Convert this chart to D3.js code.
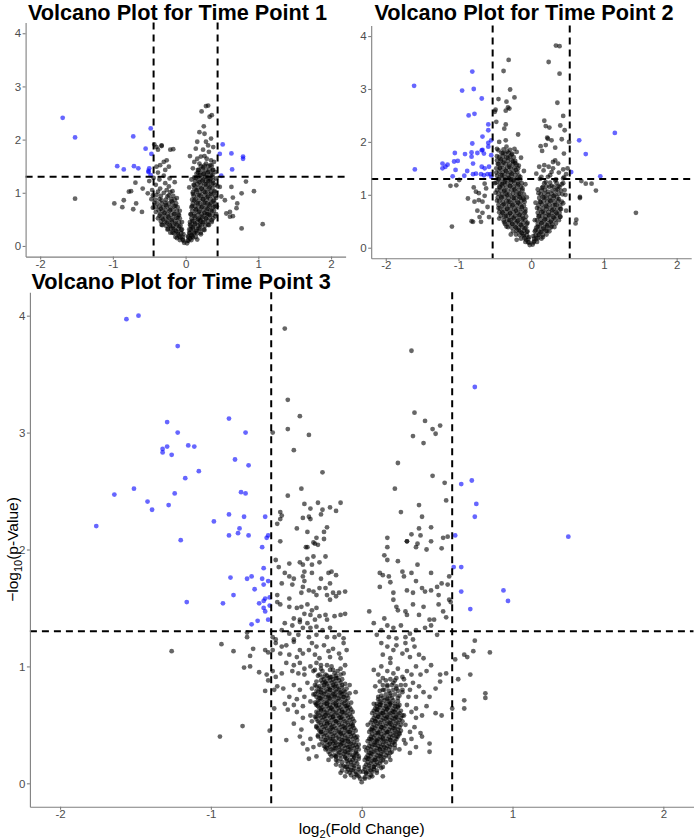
<!DOCTYPE html>
<html lang="en">
<head>
<meta charset="utf-8">
<script src="https://d3js.org/d3.v7.min.js"></script>
<title>Volcano plots</title>
<style>
  body { margin: 0; background: #fff; }
  svg { display: block; font-family: "Liberation Sans", Arial, sans-serif; }
  .tick-label { font-size: 11.5px; fill: #4d4d4d; }
  .plot-title { font-size: 21.7px; font-weight: bold; fill: #000; }
  .axis-title { font-size: 15.5px; fill: #000; }
</style>
</head>
<body>
<svg id="chart" width="697" height="838"></svg>
<script>
// each point: [log2 fold change, -log10 p-value]
const tp1Points = [
  // significant / far points
  [-1.69,2.41],[-1.52,2.04],[-0.72,2.06],[-0.48,2.21],[-0.55,1.83],[-0.47,1.73],[-0.94,1.50],[-0.85,1.44],
  [-0.71,1.50],[-0.65,1.46],[-0.51,1.41],[-0.50,1.46],[-0.51,1.39],[-0.48,1.33],
  [0.51,1.91],[0.47,1.73],[0.63,1.74],[0.79,1.68],[0.79,1.64],[0.64,1.44],[0.49,1.32],
  [-1.52,0.89],[-0.98,0.80],[-0.87,0.73],[-0.85,0.86],[-0.72,0.69],[-0.68,0.80],[-0.60,0.64],[-0.78,1.02],
  [-0.69,1.19],[-0.59,1.08],[-0.52,0.99],[-0.75,1.03],
  [0.77,0.33],[1.06,0.41],[0.94,1.03],[0.83,1.21],[0.77,0.99],[0.65,0.91],[0.71,0.80],[0.61,0.64],[0.56,0.61],
  [0.65,0.56],[0.47,1.11],[0.49,0.93],[0.54,0.86],[0.63,1.11],[0.70,0.71],[0.61,0.55],
  // upper right cluster
  [0.28,2.63],[0.31,2.64],[0.22,2.53],[0.33,2.43],[0.36,2.46],[0.25,2.25],[0.19,2.14],[0.26,2.11],[0.16,1.96],
  [0.28,1.96],[0.31,1.89],[0.35,2.02],[0.14,1.83],[0.24,1.81],[0.32,1.77],[0.38,1.86],[0.06,1.69],[0.16,1.64],
  [0.21,1.68],[0.26,1.69],[0.29,1.64],[0.35,1.61],[0.12,1.58],[0.19,1.55],[0.28,1.55],[0.34,1.52],[0.39,1.58],
  [0.10,1.46],[0.17,1.43],[0.24,1.48],[0.31,1.39],[0.37,1.43],[0.41,1.39],
  // upper left cluster
  [-0.33,1.88],[-0.38,1.81],[-0.21,1.81],[-0.17,1.82],[-0.43,1.91],[-0.26,1.61],[-0.30,1.58],[-0.35,1.52],
  [-0.40,1.49],[-0.23,1.49],[-0.38,1.38],[-0.28,1.43],[-0.40,1.86],[-0.33,1.89],
  // right arm
  [0.02,0.05],[0.04,0.10],[0.06,0.14],[0.03,0.18],[0.08,0.20],[0.10,0.16],[0.05,0.25],[0.12,0.24],[0.15,0.28],
  [0.07,0.31],[0.10,0.35],[0.18,0.33],[0.20,0.40],[0.13,0.42],[0.06,0.40],[0.24,0.45],[0.09,0.47],[0.17,0.50],
  [0.28,0.52],[0.22,0.55],[0.12,0.56],[0.33,0.58],[0.07,0.60],[0.26,0.62],[0.18,0.64],[0.36,0.66],[0.30,0.70],
  [0.14,0.69],[0.22,0.73],[0.40,0.74],[0.09,0.75],[0.33,0.78],[0.27,0.81],[0.17,0.80],[0.38,0.84],[0.12,0.86],
  [0.24,0.88],[0.42,0.90],[0.30,0.92],[0.19,0.95],[0.35,0.98],[0.10,0.98],[0.27,1.01],[0.40,1.03],[0.15,1.05],
  [0.22,1.08],[0.33,1.10],[0.44,1.12],[0.12,1.14],[0.28,1.16],[0.38,1.18],[0.19,1.20],[0.24,1.24],[0.34,1.25],
  [0.42,1.27],[0.14,1.28],[0.29,1.30],[0.20,1.33],[0.37,1.34],[0.25,1.36],[0.31,1.22],[0.17,1.38],[0.08,1.25],
  [0.05,1.10],[0.16,0.12],[0.21,0.22],[0.26,0.30],[0.31,0.40],[0.36,0.48],[0.41,0.56],[0.20,0.48],[0.30,0.60],
  // left arm
  [-0.02,0.06],[-0.04,0.12],[-0.07,0.16],[-0.03,0.22],[-0.10,0.22],[-0.13,0.28],[-0.06,0.30],[-0.17,0.33],
  [-0.09,0.37],[-0.21,0.38],[-0.14,0.42],[-0.26,0.44],[-0.05,0.45],[-0.19,0.48],[-0.31,0.50],[-0.11,0.53],
  [-0.24,0.55],[-0.36,0.57],[-0.16,0.60],[-0.29,0.62],[-0.41,0.64],[-0.08,0.66],[-0.21,0.68],[-0.34,0.70],
  [-0.45,0.72],[-0.14,0.75],[-0.27,0.77],[-0.39,0.80],[-0.19,0.84],[-0.33,0.86],[-0.47,0.88],[-0.12,0.90],
  [-0.25,0.93],[-0.40,0.96],[-0.30,1.00],[-0.18,1.03],[-0.46,1.05],[-0.35,1.08],[-0.23,1.12],[-0.41,1.15],
  [-0.28,1.18],[-0.15,1.20],[-0.50,1.22],[-0.36,1.25],[-0.22,1.27],[-0.44,1.28],[-0.30,1.32],[-0.12,0.15],
  [-0.18,0.25],[-0.24,0.32],[-0.09,0.58],[-0.33,0.40]
];

// densely packed genes in the core of the volcano, time point 1
const tp1Core = [
  [0.03,0.10],[0.08,0.11],[0.04,0.17],[0.09,0.18],[0.14,0.17],[0.06,0.24],[0.11,0.25],[0.16,0.24],[0.21,0.25],
  [0.05,0.31],[0.10,0.32],[0.15,0.31],[0.20,0.32],[0.25,0.31],[0.07,0.38],[0.12,0.39],[0.17,0.38],[0.22,0.39],
  [0.27,0.38],[0.32,0.39],[0.06,0.45],[0.11,0.46],[0.16,0.45],[0.21,0.46],[0.26,0.45],[0.31,0.46],[0.36,0.45],
  [0.08,0.52],[0.13,0.53],[0.18,0.52],[0.23,0.53],[0.28,0.52],[0.33,0.53],[0.38,0.52],[0.07,0.59],[0.12,0.60],
  [0.17,0.59],[0.22,0.60],[0.27,0.59],[0.32,0.60],[0.37,0.59],[0.42,0.60],[0.09,0.66],[0.14,0.67],[0.19,0.66],
  [0.24,0.67],[0.29,0.66],[0.34,0.67],[0.39,0.66],[0.08,0.73],[0.13,0.74],[0.18,0.73],[0.23,0.74],[0.28,0.73],
  [0.33,0.74],[0.38,0.73],[0.43,0.74],[0.10,0.80],[0.15,0.81],[0.20,0.80],[0.25,0.81],[0.30,0.80],[0.35,0.81],
  [0.40,0.80],[0.09,0.87],[0.14,0.88],[0.19,0.87],[0.24,0.88],[0.29,0.87],[0.34,0.88],[0.39,0.87],[0.11,0.94],
  [0.16,0.95],[0.21,0.94],[0.26,0.95],[0.31,0.94],[0.36,0.95],[0.41,0.94],[0.10,1.01],[0.15,1.02],[0.20,1.01],
  [0.25,1.02],[0.30,1.01],[0.35,1.02],[0.40,1.01],[0.12,1.08],[0.17,1.09],[0.22,1.08],[0.27,1.09],[0.32,1.08],
  [0.37,1.09],[0.11,1.15],[0.16,1.16],[0.21,1.15],[0.26,1.16],[0.31,1.15],[0.36,1.16],[0.41,1.15],[0.13,1.22],
  [0.18,1.23],[0.23,1.22],[0.28,1.23],[0.33,1.22],[0.38,1.23],[0.12,1.29],[0.17,1.30],[0.22,1.29],[0.27,1.30],
  [0.32,1.29],[0.37,1.30],[0.15,1.36],[0.20,1.37],[0.25,1.36],[0.30,1.37],[0.35,1.36],
  [0.18,1.43],[0.23,1.44],[0.28,1.43],[0.33,1.44],[0.38,1.43],[0.21,1.50],[0.26,1.51],[0.31,1.50],[0.36,1.51],
  [-0.03,0.10],[-0.08,0.11],[-0.04,0.17],[-0.09,0.18],[-0.14,0.17],[-0.06,0.24],[-0.11,0.25],[-0.16,0.24],
  [-0.21,0.25],[-0.05,0.31],[-0.10,0.32],[-0.15,0.31],[-0.20,0.32],[-0.25,0.31],[-0.07,0.38],[-0.12,0.39],
  [-0.17,0.38],[-0.22,0.39],[-0.27,0.38],[-0.32,0.39],[-0.09,0.45],[-0.14,0.46],[-0.19,0.45],[-0.24,0.46],
  [-0.29,0.45],[-0.34,0.46],[-0.08,0.52],[-0.13,0.53],[-0.18,0.52],[-0.23,0.53],[-0.28,0.52],[-0.33,0.53],
  [-0.38,0.52],[-0.10,0.59],[-0.15,0.60],[-0.20,0.59],[-0.25,0.60],[-0.30,0.59],[-0.35,0.60],[-0.12,0.66],
  [-0.17,0.67],[-0.22,0.66],[-0.27,0.67],[-0.32,0.66],[-0.37,0.67],[-0.11,0.73],[-0.16,0.74],[-0.21,0.73],
  [-0.26,0.74],[-0.31,0.73],[-0.36,0.74],[-0.41,0.73],[-0.13,0.80],[-0.18,0.81],[-0.23,0.80],[-0.28,0.81],
  [-0.33,0.80],[-0.43,0.81],[-0.15,0.87],[-0.20,0.88],[-0.27,0.87],[-0.36,0.88],[-0.42,0.87],[-0.17,0.94],
  [-0.23,0.95],[-0.34,0.94],[-0.45,0.95],[-0.21,1.01],[-0.38,1.02],[-0.26,1.05]
];

const tp2Points = [
  // significant left
  [-1.61,3.06],[-1.60,1.48],[-0.81,3.33],[-0.95,2.97],[-0.79,3.00],[-0.68,2.82],[-0.86,2.50],[-0.78,2.53],
  [-0.59,2.33],[-0.59,2.22],[-0.67,2.10],[-0.81,1.97],[-0.59,1.98],[-0.59,1.91],[-0.55,2.03],[-0.67,1.85],
  [-0.91,1.77],[-0.82,1.80],[-0.82,1.72],[-0.74,1.79],[-0.68,1.84],[-0.65,1.78],[-1.05,1.79],[-1.06,1.63],
  [-1.01,1.64],[-1.15,1.57],[-1.22,1.59],[-1.18,1.53],[-1.22,1.50],[-0.88,1.45],[-0.80,1.59],[-0.68,1.53],
  [-0.64,1.50],[-0.58,1.53],[-0.55,1.75],[-1.08,1.35],[-0.92,1.36],[-0.80,1.39],[-0.76,1.40],[-0.69,1.39],
  [-0.65,1.37],[-0.60,1.39],[-0.55,1.34],[-0.56,1.39],[-1.04,1.47],
  // significant right
  [0.66,2.03],[0.75,1.77],[1.15,2.17],[0.95,1.35],[0.55,1.43],
  // upper cluster
  [0.34,3.82],[0.39,3.81],[-0.31,3.55],[0.24,3.51],[-0.38,3.34],[0.39,3.29],[-0.29,2.99],[-0.45,2.81],[-0.23,2.84],
  [-0.34,2.76],[-0.32,2.65],[-0.30,2.63],[-0.35,2.59],[-0.49,2.61],[0.36,2.74],[0.44,2.49],[0.18,2.40],[-0.48,2.38],
  [-0.50,2.57],[-0.35,2.33],[-0.37,2.25],[-0.18,2.14],[0.20,2.30],[0.25,2.27],[0.40,2.31],[0.46,2.22],[0.22,2.08],
  [0.23,2.06],[0.20,1.94],[0.28,2.03],[0.33,1.89],[0.42,2.05],[0.45,1.78],[0.52,2.00],[0.13,1.92],[0.15,1.83],
  [-0.44,2.00],[-0.35,2.03],[-0.47,1.87],[-0.34,1.91],[-0.23,1.87],[-0.20,1.81],
  [0.11,1.53],[0.18,1.56],[0.24,1.53],[0.30,1.62],[0.33,1.65],[0.37,1.59],[0.44,1.48],[0.50,1.50],[0.48,1.39],
  [0.28,1.43],[0.14,1.34],[0.23,1.34],[0.34,1.29],[0.44,1.31],[0.39,1.15],[0.46,1.09],[0.25,1.15],[0.07,1.40],
  // outside, not significant
  [0.69,1.26],[0.75,1.21],[0.83,1.21],[0.89,1.08],[0.67,0.96],[0.62,0.53],[0.61,0.46],[1.44,0.66],[0.67,0.94],
  [-1.11,1.17],[-1.09,0.40],[-0.87,0.93],[-0.80,0.49],[-0.82,0.50],[-0.71,0.58],[-0.67,0.66],[-0.74,0.70],
  [-0.69,0.49],[-0.78,0.87],[-0.72,0.90],[-0.64,0.98],[-0.79,1.14],[-0.76,1.06],[-0.72,1.03],[-0.99,1.28],
  [-1.03,1.18],[-0.64,1.21],[-0.62,1.12],[-0.60,0.77],[-0.58,0.58],[-0.67,0.87],
  // left arm
  [-0.02,0.05],[-0.04,0.10],[-0.07,0.15],[-0.03,0.20],[-0.10,0.22],[-0.13,0.28],[-0.06,0.30],[-0.17,0.33],
  [-0.09,0.37],[-0.21,0.38],[-0.14,0.43],[-0.26,0.45],[-0.05,0.47],[-0.19,0.50],[-0.30,0.52],[-0.11,0.55],
  [-0.24,0.57],[-0.35,0.60],[-0.16,0.62],[-0.29,0.65],[-0.40,0.67],[-0.08,0.68],[-0.21,0.70],[-0.33,0.73],
  [-0.45,0.75],[-0.13,0.77],[-0.26,0.80],[-0.38,0.82],[-0.18,0.85],[-0.31,0.87],[-0.47,0.89],[-0.10,0.91],
  [-0.24,0.94],[-0.41,0.96],[-0.33,1.00],[-0.17,1.02],[-0.49,1.04],[-0.37,1.07],[-0.23,1.10],[-0.12,1.12],
  [-0.43,1.14],[-0.29,1.17],[-0.18,1.20],[-0.50,1.22],[-0.36,1.24],[-0.24,1.27],[-0.45,1.30],[-0.31,1.32],
  [-0.15,1.34],[-0.40,1.37],[-0.27,1.40],[-0.48,1.42],[-0.35,1.45],[-0.21,1.47],[-0.43,1.50],[-0.30,1.53],
  [-0.17,1.55],[-0.46,1.58],[-0.38,1.61],[-0.25,1.63],[-0.42,1.67],[-0.32,1.70],[-0.47,1.73],[-0.27,1.76],
  [-0.39,1.79],[-0.45,1.84],[-0.33,1.82],[-0.14,1.70],[-0.10,1.45],[-0.08,1.20],[-0.06,0.95],[-0.28,0.25],
  [-0.34,0.40],[-0.44,0.55],[-0.20,0.15],[-0.37,0.48],[-0.15,0.95],[-0.28,1.28],[-0.22,1.60],[-0.40,1.20],
  // right arm
  [0.02,0.06],[0.04,0.12],[0.07,0.17],[0.03,0.22],[0.10,0.24],[0.13,0.30],[0.06,0.33],[0.17,0.36],[0.09,0.40],
  [0.22,0.42],[0.14,0.47],[0.27,0.49],[0.05,0.52],[0.19,0.54],[0.31,0.57],[0.11,0.60],[0.24,0.62],[0.35,0.65],
  [0.16,0.68],[0.29,0.71],[0.40,0.73],[0.08,0.75],[0.21,0.78],[0.33,0.81],[0.44,0.84],[0.13,0.86],[0.26,0.89],
  [0.38,0.92],[0.18,0.95],[0.31,0.98],[0.47,1.00],[0.10,1.03],[0.23,1.06],[0.36,1.10],[0.15,1.13],[0.28,1.17],
  [0.42,1.20],[0.20,1.24],[0.33,1.27],[0.12,1.30],[0.45,1.33],[0.26,1.37],[0.38,1.42],[0.17,1.46],[0.30,1.50],
  [0.09,1.10],[0.06,0.85],[0.16,0.20],[0.22,0.32],[0.28,0.40],[0.40,0.58],[0.48,0.70]
];

const tp2Core = [
  [-0.03,0.10],[-0.08,0.11],[-0.04,0.17],[-0.09,0.18],[-0.14,0.17],[-0.06,0.24],[-0.11,0.25],[-0.16,0.24],
  [-0.21,0.25],[-0.05,0.31],[-0.10,0.32],[-0.15,0.31],[-0.20,0.32],[-0.25,0.31],[-0.07,0.38],[-0.12,0.39],
  [-0.17,0.38],[-0.22,0.39],[-0.27,0.38],[-0.32,0.39],[-0.06,0.45],[-0.11,0.46],[-0.16,0.45],[-0.21,0.46],
  [-0.26,0.45],[-0.31,0.46],[-0.36,0.45],[-0.08,0.52],[-0.13,0.53],[-0.18,0.52],[-0.23,0.53],[-0.28,0.52],
  [-0.33,0.53],[-0.38,0.52],[-0.07,0.59],[-0.12,0.60],[-0.17,0.59],[-0.22,0.60],[-0.27,0.59],[-0.32,0.60],
  [-0.37,0.59],[-0.42,0.60],[-0.09,0.66],[-0.14,0.67],[-0.19,0.66],[-0.24,0.67],[-0.29,0.66],[-0.34,0.67],
  [-0.39,0.66],[-0.44,0.67],[-0.08,0.73],[-0.13,0.74],[-0.18,0.73],[-0.23,0.74],[-0.28,0.73],[-0.33,0.74],
  [-0.38,0.73],[-0.43,0.74],[-0.10,0.80],[-0.15,0.81],[-0.20,0.80],[-0.25,0.81],[-0.30,0.80],[-0.35,0.81],
  [-0.40,0.80],[-0.45,0.81],[-0.09,0.87],[-0.14,0.88],[-0.19,0.87],[-0.24,0.88],[-0.29,0.87],[-0.34,0.88],
  [-0.39,0.87],[-0.44,0.88],[-0.11,0.94],[-0.16,0.95],[-0.21,0.94],[-0.26,0.95],[-0.31,0.94],[-0.36,0.95],
  [-0.41,0.94],[-0.46,0.95],[-0.10,1.01],[-0.15,1.02],[-0.20,1.01],[-0.25,1.02],[-0.30,1.01],[-0.35,1.02],
  [-0.40,1.01],[-0.45,1.02],[-0.12,1.08],[-0.17,1.09],[-0.22,1.08],[-0.27,1.09],[-0.32,1.08],[-0.37,1.09],
  [-0.42,1.08],[-0.47,1.09],[-0.14,1.15],[-0.19,1.16],[-0.24,1.15],[-0.29,1.16],[-0.34,1.15],[-0.39,1.16],
  [-0.44,1.15],[-0.13,1.22],[-0.18,1.23],[-0.23,1.22],[-0.28,1.23],[-0.33,1.22],[-0.38,1.23],[-0.43,1.22],
  [-0.48,1.23],[-0.15,1.29],[-0.20,1.30],[-0.25,1.29],[-0.30,1.30],[-0.35,1.29],[-0.40,1.30],[-0.45,1.29],
  [-0.17,1.36],[-0.22,1.37],[-0.27,1.36],[-0.32,1.37],[-0.37,1.36],[-0.42,1.37],[-0.47,1.36],[-0.19,1.43],
  [-0.24,1.44],[-0.29,1.43],[-0.34,1.44],[-0.39,1.43],[-0.44,1.44],[-0.18,1.50],[-0.23,1.51],[-0.28,1.50],
  [-0.33,1.51],[-0.38,1.50],[-0.43,1.51],[-0.48,1.50],[-0.20,1.57],[-0.25,1.58],[-0.30,1.57],[-0.35,1.58],
  [-0.40,1.57],[-0.45,1.58],[-0.22,1.64],[-0.27,1.65],[-0.32,1.64],[-0.37,1.65],[-0.42,1.64],[-0.47,1.65],
  [-0.24,1.71],[-0.29,1.72],[-0.34,1.71],[-0.39,1.72],[-0.44,1.71],[-0.26,1.78],[-0.31,1.79],[-0.36,1.78],
  [-0.41,1.79],[-0.29,1.85],[-0.38,1.86],
  [0.03,0.10],[0.08,0.11],[0.04,0.17],[0.09,0.18],[0.14,0.17],[0.06,0.24],[0.11,0.25],[0.16,0.24],[0.21,0.25],
  [0.05,0.31],[0.10,0.32],[0.15,0.31],[0.20,0.32],[0.25,0.31],[0.07,0.38],[0.12,0.39],[0.17,0.38],[0.22,0.39],
  [0.27,0.38],[0.32,0.39],[0.09,0.45],[0.14,0.46],[0.19,0.45],[0.24,0.46],[0.29,0.45],[0.34,0.46],[0.08,0.52],
  [0.13,0.53],[0.18,0.52],[0.23,0.53],[0.28,0.52],[0.33,0.53],[0.38,0.52],[0.10,0.59],[0.15,0.60],[0.20,0.59],
  [0.25,0.60],[0.30,0.59],[0.35,0.60],[0.40,0.59],[0.09,0.66],[0.14,0.67],[0.19,0.66],[0.24,0.67],[0.29,0.66],
  [0.34,0.67],[0.39,0.66],[0.11,0.73],[0.16,0.74],[0.21,0.73],[0.26,0.74],[0.31,0.73],[0.36,0.74],[0.41,0.73],
  [0.10,0.80],[0.15,0.81],[0.20,0.80],[0.25,0.81],[0.30,0.80],[0.35,0.81],[0.40,0.80],[0.12,0.87],[0.17,0.88],
  [0.22,0.87],[0.27,0.88],[0.32,0.87],[0.37,0.88],[0.42,0.87],[0.11,0.94],[0.16,0.95],[0.21,0.94],[0.26,0.95],
  [0.31,0.94],[0.36,0.95],[0.13,1.01],[0.18,1.02],[0.23,1.01],[0.28,1.02],[0.33,1.01],[0.38,1.02],[0.43,1.01],
  [0.14,1.08],[0.19,1.09],[0.29,1.08],[0.34,1.09],[0.41,1.08],[0.16,1.15],[0.21,1.16],[0.31,1.15],[0.37,1.16],
  [0.18,1.22],[0.26,1.23],[0.35,1.22],[0.44,1.22]
];

const tp3Points = [
  // significant left
  [-1.56,3.97],[-1.48,4.00],[-1.22,3.74],[-0.88,3.12],[-1.29,3.09],[-1.22,3.00],[-0.77,3.00],[-1.32,2.86],
  [-1.32,2.83],[-1.29,2.88],[-1.15,2.89],[-1.11,2.88],[-1.26,2.81],[-0.84,2.77],[-0.75,2.72],[-1.08,2.67],
  [-1.17,2.61],[-1.51,2.52],[-1.64,2.47],[-1.24,2.48],[-0.80,2.49],[-0.77,2.48],[-1.42,2.41],[-1.39,2.34],
  [-1.28,2.38],[-1.76,2.20],[-0.98,2.24],[-0.88,2.30],[-0.78,2.28],[-0.64,2.28],[-0.81,2.18],[-0.82,2.14],
  [-0.88,2.12],[-0.75,2.12],[-1.20,2.08],[-0.63,2.10],[-0.62,2.12],[-0.66,2.02],
  [-0.87,1.76],[-0.73,1.77],[-0.76,1.75],[-0.66,1.75],[-0.62,1.73],[-0.65,1.84],[-0.71,1.66],[-0.65,1.70],
  [-0.85,1.61],[-0.64,1.58],[-0.65,1.56],[-0.61,1.59],[-0.68,1.54],[-0.61,1.52],[-0.92,1.54],[-1.16,1.55],
  [-0.65,1.50],[-0.64,1.47],[-0.62,1.40],[-0.69,1.39],[-0.73,1.36],
  // significant right
  [0.75,3.39],[0.66,2.56],[0.73,2.59],[0.76,2.39],[0.75,2.28],[0.62,2.12],[1.37,2.11],
  [0.61,1.85],[0.66,1.85],[0.66,1.64],[0.94,1.65],[0.97,1.56],[0.72,1.49],
  // outside, not significant
  [0.75,1.22],[0.74,1.13],[0.68,1.10],[0.70,1.08],[0.62,1.06],[0.85,1.12],[0.72,0.93],[0.64,0.89],[0.82,0.77],
  [0.82,0.73],[0.68,0.71],[0.68,0.64],[0.60,0.64],
  [-0.76,1.29],[-0.76,1.25],[-0.93,1.19],[-0.85,1.13],[-0.72,1.15],[-1.26,1.13],[-0.74,1.09],[-0.64,1.14],
  [-0.62,1.12],[-0.78,0.99],[-0.74,1.00],[-0.68,0.95],[-0.63,0.93],[-0.62,0.88],[-0.64,0.79],[-0.79,0.49],
  [-0.94,0.40],[-0.61,0.45],
  // upper right
  [0.33,3.70],[0.35,3.17],[0.42,3.10],[0.47,3.03],[0.52,3.06],[0.49,2.99],[0.34,2.97],[0.41,2.91],[0.24,2.74],
  [0.47,2.63],[0.55,2.57],[0.22,2.52],[0.56,2.42],[0.38,2.38],[0.26,2.32],[0.40,2.28],[0.38,2.18],[0.46,2.19],
  [0.33,2.13],[0.39,2.12],[0.54,2.10],[0.57,2.11],[0.17,2.10],[0.30,2.07],[0.37,2.05],[0.17,2.02],[0.36,2.02],
  [0.43,2.00],[0.53,2.01],
  // upper left
  [-0.51,3.89],[-0.49,3.28],[-0.59,3.00],[-0.49,3.03],[-0.41,3.14],[-0.35,2.98],[-0.45,2.85],[-0.26,2.66],
  [-0.40,2.52],[-0.49,2.46],[-0.38,2.39],[-0.29,2.40],[-0.14,2.40],[-0.34,2.35],[-0.26,2.34],[-0.21,2.36],
  [-0.17,2.33],[-0.27,2.30],[-0.54,2.32],[-0.54,2.26],[-0.53,2.29],[-0.56,2.22],[-0.39,2.27],[-0.35,2.28],
  [-0.34,2.26],[-0.23,2.19],[-0.43,2.18],[-0.36,2.15],[-0.25,2.15],[-0.30,2.10],[-0.25,2.09],[-0.32,2.06],
  [-0.29,2.04],[-0.37,2.02],[-0.54,2.07],
  // 1.9 - 2.1
  [-0.36,2.02],[-0.31,2.05],[-0.57,1.91],[-0.32,1.94],[-0.24,1.94],[-0.36,1.92],
  [0.15,1.95],[0.17,1.91],[0.24,1.90],[0.30,2.07],[0.46,2.07],
  // 1.74 - 1.9
  [-0.48,1.88],[-0.41,1.89],[-0.39,1.87],[-0.33,1.87],[-0.28,1.89],[-0.22,1.80],[-0.20,1.81],[-0.51,1.80],
  [-0.48,1.77],[-0.45,1.75],[-0.38,1.81],[-0.39,1.77],[-0.33,1.80],[-0.27,1.75],[-0.17,1.78],[-0.55,1.85],
  [0.12,1.80],[0.14,1.78],[0.18,1.77],[0.27,1.81],[0.28,1.77],[0.33,1.80],[0.37,1.87],[0.46,1.80],[0.53,1.71],
  // 1.57 - 1.74
  [-0.53,1.71],[-0.46,1.70],[-0.38,1.73],[-0.39,1.68],[-0.35,1.65],[-0.32,1.64],[-0.28,1.67],[-0.24,1.67],
  [-0.21,1.71],[-0.19,1.63],[-0.15,1.63],[-0.11,1.64],[-0.56,1.61],[-0.48,1.58],[-0.40,1.63],[-0.30,1.61],
  [-0.23,1.61],[-0.17,1.60],[-0.21,1.57],
  [0.12,1.68],[0.19,1.72],[0.21,1.63],[0.30,1.65],[0.36,1.73],[0.34,1.63],[0.40,1.67],[0.42,1.64],[0.46,1.65],
  [0.50,1.68],[0.51,1.61],[0.58,1.57],[0.57,1.70],[0.58,1.77],
  // 1.40 - 1.57
  [-0.54,1.53],[-0.56,1.55],[-0.48,1.51],[-0.43,1.50],[-0.40,1.51],[-0.36,1.53],[-0.33,1.48],[-0.30,1.50],
  [-0.38,1.45],[-0.34,1.44],[-0.28,1.43],[-0.24,1.44],[-0.14,1.44],[-0.11,1.45],[-0.45,1.41],[-0.41,1.40],
  [-0.31,1.40],[-0.23,1.40],[-0.18,1.43],
  [0.05,1.47],[0.08,1.37],[0.15,1.41],[0.21,1.57],[0.23,1.51],[0.24,1.48],[0.29,1.47],[0.30,1.44],[0.34,1.53],
  [0.38,1.44],[0.41,1.51],[0.45,1.40],[0.48,1.40],[0.51,1.53],[0.54,1.47],[0.59,1.55],[0.56,1.42],
  // 1.23 - 1.40
  [-0.51,1.37],[-0.46,1.35],[-0.41,1.38],[-0.39,1.33],[-0.36,1.37],[-0.34,1.33],[-0.30,1.34],[-0.26,1.31],
  [-0.21,1.33],[-0.18,1.25],[-0.15,1.27],[-0.12,1.24],[-0.53,1.31],[-0.48,1.28],[-0.42,1.27],[-0.35,1.25],
  [-0.30,1.27],[-0.59,1.25],[-0.57,1.23],[-0.45,1.23],[-0.23,1.25],
  [0.10,1.27],[0.13,1.31],[0.17,1.35],[0.21,1.33],[0.26,1.35],[0.29,1.25],[0.32,1.28],[0.34,1.23],[0.36,1.31],
  [0.42,1.33],[0.46,1.35],[0.50,1.27],[0.23,1.24],[0.18,1.25],
  // 1.06 - 1.23
  [-0.57,1.20],[-0.53,1.17],[-0.50,1.18],[-0.45,1.21],[-0.41,1.14],[-0.39,1.11],[-0.35,1.14],[-0.33,1.20],
  [-0.30,1.17],[-0.25,1.18],[-0.22,1.13],[-0.19,1.15],[-0.15,1.11],[-0.12,1.20],[-0.59,1.14],[-0.54,1.11],
  [-0.48,1.10],[-0.43,1.08],[-0.31,1.10],[-0.28,1.07],[-0.21,1.08],[-0.14,1.07],[-0.10,1.14],
  [0.13,1.20],[0.17,1.17],[0.21,1.14],[0.23,1.18],[0.27,1.11],[0.30,1.14],[0.32,1.08],[0.35,1.17],[0.38,1.10],
  [0.41,1.07],[0.14,1.10],[0.19,1.07],[0.29,1.20],
  // 0.89 - 1.06
  [-0.50,1.03],[-0.45,1.01],[-0.41,1.03],[-0.38,0.98],[-0.34,1.00],[-0.30,1.03],[-0.27,0.98],[-0.23,1.01],
  [-0.19,0.97],[-0.14,0.98],[-0.11,1.01],[-0.46,0.96],[-0.42,0.94],[-0.38,0.93],[-0.32,0.96],[-0.28,0.93],
  [-0.21,0.91],[-0.17,0.90],[-0.12,0.94],[-0.53,0.94],[-0.59,0.96],[-0.57,0.91],
  [0.08,0.97],[0.11,0.93],[0.13,1.00],[0.17,0.96],[0.19,1.03],[0.21,0.94],[0.24,0.98],[0.27,0.91],[0.30,0.96],
  [0.33,0.93],[0.36,1.00],[0.39,0.93],[0.43,0.96],[0.46,1.01],[0.52,0.93],[0.56,0.94],[0.14,0.90],[0.23,0.90],
  // 0.72 - 0.89
  [-0.56,0.83],[-0.52,0.81],[-0.45,0.84],[-0.41,0.80],[-0.36,0.86],[-0.33,0.81],[-0.30,0.83],[-0.27,0.78],
  [-0.24,0.86],[-0.21,0.80],[-0.18,0.83],[-0.14,0.78],[-0.12,0.74],[-0.08,0.84],[-0.48,0.74],[-0.43,0.72],
  [-0.38,0.74],[-0.32,0.76],[-0.28,0.73],[-0.22,0.74],[-0.18,0.75],[-0.58,0.80],[-0.04,0.78],
  [0.09,0.83],[0.12,0.87],[0.14,0.80],[0.17,0.84],[0.19,0.77],[0.21,0.86],[0.23,0.81],[0.27,0.78],[0.29,0.84],
  [0.32,0.80],[0.34,0.86],[0.38,0.83],[0.41,0.78],[0.45,0.74],[0.49,0.81],[0.52,0.87],[0.11,0.74],[0.17,0.73],
  [0.24,0.73],[0.31,0.74],[0.36,0.74],
  // 0.55 - 0.72
  [-0.51,0.68],[-0.45,0.67],[-0.39,0.66],[-0.34,0.70],[-0.30,0.67],[-0.27,0.63],[-0.23,0.68],[-0.20,0.64],
  [-0.17,0.67],[-0.13,0.61],[-0.10,0.66],[-0.34,0.58],[-0.30,0.57],[-0.24,0.58],[-0.19,0.57],[-0.14,0.56],
  [-0.43,0.61],[-0.49,0.63],[-0.58,0.64],[-0.39,0.56],
  [0.08,0.68],[0.10,0.63],[0.12,0.67],[0.14,0.60],[0.17,0.64],[0.19,0.68],[0.21,0.61],[0.24,0.66],[0.28,0.58],
  [0.30,0.67],[0.33,0.61],[0.36,0.64],[0.40,0.58],[0.43,0.66],[0.49,0.60],[0.53,0.58],[0.11,0.57],[0.17,0.56],
  [0.23,0.56],[0.36,0.56],
  // 0.37 - 0.55
  [-0.45,0.51],[-0.40,0.46],[-0.33,0.53],[-0.30,0.48],[-0.27,0.44],[-0.23,0.51],[-0.20,0.47],[-0.17,0.53],
  [-0.14,0.43],[-0.11,0.48],[-0.08,0.44],[-0.06,0.50],[-0.50,0.37],[-0.41,0.40],[-0.34,0.38],[-0.29,0.40],
  [-0.24,0.37],[-0.19,0.38],[-0.13,0.37],[-0.09,0.38],[-0.03,0.40],
  [0.04,0.50],[0.07,0.46],[0.09,0.53],[0.11,0.43],[0.13,0.48],[0.17,0.44],[0.19,0.51],[0.22,0.47],[0.25,0.43],
  [0.29,0.50],[0.32,0.44],[0.35,0.48],[0.39,0.43],[0.06,0.38],[0.10,0.37],[0.14,0.38],[0.19,0.37],[0.23,0.40],
  [0.28,0.37],[0.33,0.38],[0.40,0.40],
  // 0.20 - 0.37
  [-0.39,0.34],[-0.36,0.29],[-0.32,0.31],[-0.28,0.33],[-0.24,0.29],[-0.21,0.34],[-0.18,0.30],[-0.14,0.33],
  [-0.11,0.27],[-0.08,0.31],[-0.04,0.26],[-0.02,0.33],[-0.35,0.21],[-0.30,0.23],[-0.22,0.20],[-0.17,0.23],
  [-0.10,0.21],[-0.06,0.20],
  [0.02,0.31],[0.06,0.26],[0.09,0.33],[0.12,0.29],[0.15,0.31],[0.19,0.26],[0.22,0.33],[0.25,0.29],[0.29,0.34],
  [0.32,0.26],[0.36,0.31],[0.45,0.34],[0.45,0.27],[0.04,0.21],[0.09,0.20],[0.13,0.23],[0.19,0.20],
  // bottom of the V
  [-0.17,0.16],[-0.13,0.11],[-0.10,0.14],[-0.08,0.09],[-0.06,0.11],[-0.03,0.07],[-0.01,0.04],[0.00,0.01],
  [0.02,0.04],[0.03,0.09],[0.06,0.11],[0.08,0.14],[0.10,0.09],[0.13,0.13],[0.14,0.06],[-0.11,0.06],[0.07,0.06],
  [-0.14,0.09]
];

const tp3Core = [
  [-0.04,0.08],[-0.07,0.07],[-0.02,0.12],[-0.05,0.13],[-0.09,0.12],[-0.03,0.17],[-0.06,0.16],[-0.09,0.17],
  [-0.12,0.15],[-0.02,0.21],[-0.05,0.22],[-0.08,0.20],[-0.11,0.22],[-0.14,0.21],[-0.17,0.20],[-0.03,0.25],
  [-0.06,0.24],[-0.09,0.26],[-0.12,0.25],[-0.15,0.26],[-0.18,0.24],[-0.21,0.25],[-0.02,0.29],[-0.05,0.30],
  [-0.08,0.29],[-0.11,0.30],[-0.14,0.29],[-0.17,0.30],[-0.20,0.29],[-0.23,0.30],[-0.04,0.33],[-0.07,0.34],
  [-0.10,0.33],[-0.13,0.34],[-0.16,0.33],[-0.19,0.34],[-0.22,0.33],[-0.25,0.32],[-0.03,0.37],[-0.06,0.38],
  [-0.09,0.36],[-0.12,0.37],[-0.15,0.38],[-0.18,0.36],[-0.21,0.38],[-0.24,0.37],[-0.27,0.38],[-0.05,0.41],
  [-0.08,0.42],[-0.11,0.41],[-0.14,0.42],[-0.17,0.41],[-0.20,0.42],[-0.23,0.41],[-0.26,0.42],[-0.29,0.41],
  [-0.04,0.45],[-0.07,0.46],[-0.10,0.45],[-0.13,0.46],[-0.16,0.45],[-0.19,0.46],[-0.22,0.45],[-0.25,0.46],
  [-0.28,0.45],[-0.06,0.49],[-0.09,0.50],[-0.12,0.49],[-0.15,0.50],[-0.18,0.49],[-0.21,0.50],[-0.24,0.49],
  [-0.27,0.50],[-0.30,0.49],[-0.05,0.53],[-0.08,0.54],[-0.11,0.53],[-0.14,0.54],[-0.17,0.53],[-0.20,0.54],
  [-0.23,0.53],[-0.26,0.54],[-0.29,0.53],[-0.07,0.57],[-0.10,0.58],[-0.13,0.57],[-0.16,0.58],[-0.19,0.57],
  [-0.22,0.58],[-0.25,0.57],[-0.28,0.58],[-0.31,0.57],[-0.06,0.61],[-0.09,0.62],[-0.12,0.61],[-0.15,0.62],
  [-0.18,0.61],[-0.21,0.62],[-0.24,0.61],[-0.27,0.62],[-0.30,0.61],[-0.08,0.65],[-0.11,0.66],[-0.14,0.65],
  [-0.17,0.66],[-0.20,0.65],[-0.23,0.66],[-0.26,0.65],[-0.29,0.66],[-0.07,0.69],[-0.10,0.70],[-0.13,0.69],
  [-0.16,0.70],[-0.19,0.69],[-0.22,0.70],[-0.25,0.69],[-0.28,0.70],[-0.31,0.69],[-0.09,0.73],[-0.12,0.74],
  [-0.15,0.73],[-0.18,0.74],[-0.21,0.73],[-0.24,0.74],[-0.27,0.73],[-0.30,0.74],[-0.08,0.77],[-0.11,0.78],
  [-0.14,0.77],[-0.17,0.78],[-0.20,0.77],[-0.23,0.78],[-0.26,0.77],[-0.29,0.78],[-0.10,0.81],[-0.13,0.82],
  [-0.16,0.81],[-0.19,0.82],[-0.22,0.81],[-0.25,0.82],[-0.28,0.81],[-0.11,0.85],[-0.14,0.86],[-0.17,0.85],
  [-0.20,0.86],[-0.23,0.85],[-0.26,0.86],[-0.13,0.89],[-0.16,0.90],[-0.19,0.89],[-0.22,0.90],[-0.25,0.89],
  [-0.14,0.93],[-0.18,0.94],[-0.24,0.93],
  [0.03,0.08],[0.06,0.07],[0.02,0.12],[0.05,0.13],[0.08,0.12],[0.03,0.16],[0.06,0.17],[0.09,0.16],[0.12,0.17],
  [0.02,0.20],[0.05,0.21],[0.08,0.20],[0.11,0.21],[0.14,0.20],[0.04,0.24],[0.07,0.25],[0.10,0.24],[0.13,0.25],
  [0.16,0.24],[0.03,0.28],[0.06,0.29],[0.09,0.28],[0.12,0.29],[0.15,0.28],[0.18,0.29],[0.05,0.32],[0.08,0.33],
  [0.11,0.32],[0.14,0.33],[0.17,0.32],[0.20,0.33],[0.04,0.36],[0.07,0.37],[0.10,0.36],[0.13,0.37],[0.16,0.36],
  [0.19,0.37],[0.22,0.36],[0.06,0.40],[0.09,0.41],[0.12,0.40],[0.15,0.41],[0.18,0.40],[0.21,0.41],[0.24,0.40],
  [0.05,0.44],[0.08,0.45],[0.11,0.44],[0.14,0.45],[0.17,0.44],[0.20,0.45],[0.23,0.44],[0.26,0.45],[0.07,0.48],
  [0.10,0.49],[0.13,0.48],[0.16,0.49],[0.19,0.48],[0.22,0.49],[0.25,0.48],[0.06,0.52],[0.09,0.53],[0.12,0.52],
  [0.15,0.53],[0.18,0.52],[0.21,0.53],[0.24,0.52],[0.27,0.53],[0.08,0.56],[0.11,0.57],[0.14,0.56],[0.17,0.57],
  [0.20,0.56],[0.23,0.57],[0.26,0.56],[0.07,0.60],[0.10,0.61],[0.13,0.60],[0.16,0.61],[0.19,0.60],[0.22,0.61],
  [0.25,0.60],[0.09,0.64],[0.12,0.65],[0.15,0.64],[0.18,0.65],[0.21,0.64],[0.24,0.65],[0.10,0.68],[0.13,0.69],
  [0.16,0.68],[0.19,0.69],[0.22,0.68],[0.11,0.72],[0.14,0.73],[0.17,0.72],[0.20,0.73]
];

// second, offset layer of the darkest part of the time point 3 core
const tp3Inner = [
  [-0.02,0.06],[-0.05,0.05],[-0.01,0.10],[-0.04,0.10],[-0.07,0.11],[-0.10,0.10],[-0.02,0.14],[-0.05,0.15],
  [-0.08,0.14],[-0.11,0.14],[-0.14,0.15],[-0.04,0.19],[-0.07,0.18],[-0.10,0.19],[-0.13,0.18],[-0.16,0.19],
  [-0.02,0.23],[-0.05,0.23],[-0.08,0.24],[-0.11,0.23],[-0.14,0.24],[-0.17,0.23],[-0.20,0.23],[-0.04,0.27],
  [-0.07,0.28],[-0.10,0.27],[-0.13,0.28],[-0.16,0.27],[-0.19,0.28],[-0.22,0.27],[-0.03,0.31],[-0.06,0.32],
  [-0.09,0.31],[-0.12,0.32],[-0.15,0.31],[-0.18,0.32],[-0.21,0.31],[-0.24,0.31],[-0.05,0.35],[-0.08,0.35],
  [-0.11,0.36],[-0.14,0.35],[-0.17,0.35],[-0.20,0.36],[-0.23,0.35],[-0.26,0.35],[-0.04,0.39],[-0.07,0.40],
  [-0.10,0.39],[-0.13,0.40],[-0.16,0.39],[-0.19,0.40],[-0.22,0.39],[-0.25,0.40],[-0.06,0.43],[-0.09,0.44],
  [-0.12,0.43],[-0.15,0.44],[-0.18,0.43],[-0.21,0.44],[-0.24,0.43],[-0.27,0.44],[-0.05,0.47],[-0.08,0.48],
  [-0.11,0.47],[-0.14,0.48],[-0.17,0.47],[-0.20,0.48],[-0.23,0.47],[-0.26,0.48],[-0.29,0.47],[-0.07,0.51],
  [-0.10,0.52],[-0.13,0.51],[-0.16,0.52],[-0.19,0.51],[-0.22,0.52],[-0.25,0.51],[-0.28,0.52],[-0.06,0.55],
  [-0.09,0.56],[-0.12,0.55],[-0.15,0.56],[-0.18,0.55],[-0.21,0.56],[-0.24,0.55],[-0.27,0.56],[-0.30,0.55],
  [-0.08,0.59],[-0.11,0.60],[-0.14,0.59],[-0.17,0.60],[-0.20,0.59],[-0.23,0.60],[-0.26,0.59],[-0.29,0.60],
  [-0.07,0.63],[-0.10,0.64],[-0.13,0.63],[-0.16,0.64],[-0.19,0.63],[-0.22,0.64],[-0.25,0.63],[-0.28,0.64],
  [-0.09,0.67],[-0.12,0.68],[-0.15,0.67],[-0.18,0.68],[-0.21,0.67],[-0.24,0.68],[-0.27,0.67],[-0.30,0.68],
  [-0.11,0.71],[-0.14,0.72],[-0.17,0.71],[-0.20,0.72],[-0.23,0.71],[-0.26,0.72],[-0.29,0.71],[-0.10,0.75],
  [-0.13,0.76],[-0.16,0.75],[-0.19,0.76],[-0.22,0.75],[-0.25,0.76],[-0.28,0.75],[-0.31,0.76],[-0.12,0.79],
  [-0.15,0.80],[-0.18,0.79],[-0.21,0.80],[-0.24,0.79],[-0.27,0.80],[-0.30,0.79],[-0.13,0.84],[-0.16,0.83],
  [-0.19,0.84],[-0.22,0.83],[-0.25,0.84],[-0.28,0.83],[-0.31,0.84],[-0.15,0.88],[-0.18,0.87],[-0.21,0.88],
  [-0.24,0.87],[-0.27,0.88],[-0.30,0.87],[-0.17,0.92],[-0.20,0.91],[-0.23,0.92],[-0.26,0.91],[-0.29,0.92],
  [-0.16,0.96],[-0.21,0.97],[-0.26,0.96],[-0.31,0.97],[-0.20,1.00],[-0.27,1.01],
  [0.02,0.05],[0.05,0.05],[0.01,0.10],[0.04,0.10],[0.07,0.10],[0.10,0.11],[0.02,0.14],[0.05,0.15],[0.08,0.14],
  [0.11,0.15],[0.14,0.14],[0.04,0.18],[0.07,0.19],[0.10,0.18],[0.13,0.19],[0.16,0.18],[0.03,0.22],[0.06,0.23],
  [0.09,0.22],[0.12,0.23],[0.15,0.22],[0.18,0.23],[0.05,0.26],[0.08,0.27],[0.11,0.26],[0.14,0.27],[0.17,0.26],
  [0.20,0.27],[0.04,0.30],[0.07,0.31],[0.10,0.30],[0.13,0.31],[0.16,0.30],[0.19,0.31],[0.22,0.30],[0.06,0.34],
  [0.09,0.35],[0.12,0.34],[0.15,0.35],[0.18,0.34],[0.21,0.35],[0.05,0.38],[0.08,0.39],[0.11,0.38],[0.14,0.39],
  [0.17,0.38],[0.20,0.39],[0.23,0.38],[0.07,0.42],[0.10,0.43],[0.13,0.42],[0.16,0.43],[0.19,0.42],[0.22,0.43],
  [0.25,0.42],[0.06,0.46],[0.09,0.47],[0.12,0.46],[0.15,0.47],[0.18,0.46],[0.21,0.47],[0.24,0.46],[0.08,0.50],
  [0.11,0.51],[0.14,0.50],[0.17,0.51],[0.20,0.50],[0.23,0.51],[0.26,0.50],[0.07,0.54],[0.10,0.55],[0.13,0.54],
  [0.16,0.55],[0.19,0.54],[0.22,0.55],[0.25,0.54],[0.09,0.58],[0.12,0.59],[0.15,0.58],[0.18,0.59],[0.21,0.58],
  [0.24,0.59],[0.27,0.58],[0.08,0.62],[0.11,0.63],[0.14,0.62],[0.17,0.63],[0.20,0.62],[0.23,0.63],[0.26,0.62],
  [0.10,0.66],[0.13,0.67],[0.16,0.66],[0.19,0.67],[0.22,0.66],[0.25,0.67],[0.12,0.70],[0.15,0.71],[0.18,0.70],
  [0.21,0.71],[0.24,0.70],[0.13,0.75],[0.16,0.76],[0.19,0.75],[0.22,0.76],[0.25,0.75],[0.12,0.79],[0.15,0.80],
  [0.18,0.79],[0.21,0.80],[0.24,0.79],[0.27,0.80],[0.14,0.84],[0.17,0.83],[0.20,0.84],[0.23,0.83],[0.26,0.84],
  [0.16,0.88],[0.19,0.89],[0.22,0.88],[0.28,0.89]
];

const plotTitles = ["Volcano Plot for Time Point 1", "Volcano Plot for Time Point 2", "Volcano Plot for Time Point 3"];
const fcCutoffs = [0.44, 0.53, 0.6];     // |log2 FC| cut-off, one per time point
const pCutoff = -Math.log10(0.05);        // 1.30
const xTicks = [-2, -1, 0, 1, 2];
const yTicks = [0, 1, 2, 3, 4];
const xDomain = [-2.2, 2.2];
const yDomain = [-0.2, 4.2];

// where each panel sits on the page
const panels = [
  { pts: tp1Points.concat(tp1Core), left: 25.6, right: 345.6, bottom: 256.6, top: 22.6, titleX: 177.5, titleY: 19.5, anchor: "middle" },
  { pts: tp2Points.concat(tp2Core), left: 371.2, right: 691.2, bottom: 258.3, top: 25.5, titleX: 524, titleY: 20, anchor: "middle" },
  { pts: tp3Points.concat(tp3Core, tp3Inner), left: 29.9, right: 693.5, bottom: 806.7, top: 292.3, titleX: 31.5, titleY: 289, anchor: "start" }
];

const svg = d3.select("#chart");
const axisGrey = "#7f7f7f";

panels.forEach((p, i) => {
  const x = d3.scaleLinear().domain(xDomain).range([p.left, p.right]);
  const y = d3.scaleLinear().domain(yDomain).range([p.bottom, p.top]);
  const cut = fcCutoffs[i];
  const g = svg.append("g");

  // points
  g.selectAll("circle")
    .data(p.pts)
    .enter().append("circle")
    .attr("cx", d => x(d[0]))
    .attr("cy", d => y(d[1]))
    .attr("r", 2.4)
    .attr("fill", d => (Math.abs(d[0]) > cut && d[1] > pCutoff) ? "#0000ff" : "#000")
    .attr("fill-opacity", 0.6);

  // threshold lines
  const dash = "7,5";
  [-cut, cut].forEach(v => {
    g.append("line")
      .attr("x1", x(v)).attr("x2", x(v))
      .attr("y1", y(yDomain[1])).attr("y2", y(yDomain[0]))
      .attr("stroke", "#000").attr("stroke-width", 2).attr("stroke-dasharray", dash);
  });
  g.append("line")
    .attr("x1", x(xDomain[0])).attr("x2", x(xDomain[1]))
    .attr("y1", y(pCutoff)).attr("y2", y(pCutoff))
    .attr("stroke", "#000").attr("stroke-width", 2).attr("stroke-dasharray", dash);

  // axes
  const xAxis = g.append("g")
    .attr("transform", `translate(0,${p.bottom})`)
    .call(d3.axisBottom(x).tickValues(xTicks).tickSize(3).tickSizeOuter(0).tickFormat(d => String(d)));
  const yAxis = g.append("g")
    .attr("transform", `translate(${p.left},0)`)
    .call(d3.axisLeft(y).tickValues(yTicks).tickSize(3).tickSizeOuter(0).tickFormat(d => String(d)));

  [xAxis, yAxis].forEach(ax => {
    ax.select(".domain").attr("stroke", axisGrey).attr("stroke-width", 1.1);
    ax.selectAll(".tick line").attr("stroke", axisGrey).attr("stroke-width", 1.1);
    ax.selectAll(".tick text").attr("class", "tick-label").attr("font-family", null).attr("font-size", null).attr("fill", null);
  });
  xAxis.selectAll(".tick text").attr("dy", null).attr("y", 11);
  yAxis.selectAll(".tick text").attr("x", -4.5);

  // title
  svg.append("text")
    .attr("class", "plot-title")
    .attr("x", p.titleX)
    .attr("y", p.titleY)
    .attr("text-anchor", p.anchor)
    .text(plotTitles[i]);
});

// axis titles for the large panel
const big = panels[2];
const xt = svg.append("text")
  .attr("class", "axis-title")
  .attr("x", (big.left + big.right) / 2)
  .attr("y", 833.5)
  .attr("text-anchor", "middle");
xt.append("tspan").text("log");
xt.append("tspan").attr("font-size", "11px").attr("dy", 4).text("2");
xt.append("tspan").attr("dy", -4).text("(Fold Change)");

const yt = svg.append("text")
  .attr("class", "axis-title")
  .attr("transform", `translate(18,${(big.top + big.bottom) / 2}) rotate(-90)`)
  .attr("text-anchor", "middle");
yt.append("tspan").text("\u2212log");
yt.append("tspan").attr("font-size", "11px").attr("dy", 4).text("10");
yt.append("tspan").attr("dy", -4).text("(p-Value)");
</script>
</body>
</html>
